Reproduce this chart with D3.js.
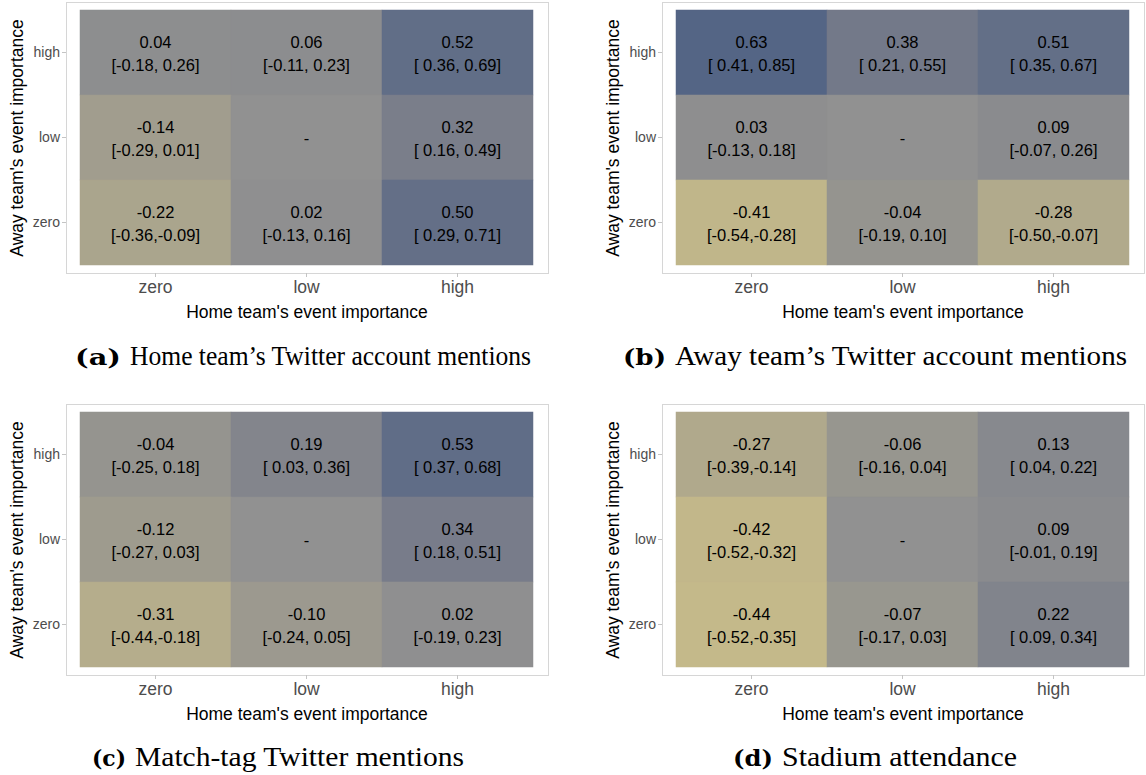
<!DOCTYPE html>
<html>
<head>
<meta charset="utf-8">
<script src="https://cdn.jsdelivr.net/npm/d3@7"></script>
<style>
  body { margin: 0; background: #fff; }
  svg { display: block; }
</style>
</head>
<body>
<script>
// categories
var homeLevels = ["zero", "low", "high"];
var awayLevels = ["high", "low", "zero"];

// estimates per panel, rows = away (high, low, zero), cols = home (zero, low, high); null = reference cell
var estA = [[0.04, 0.06, 0.52], [-0.14, null, 0.32], [-0.22, 0.02, 0.50]];
var lowA = [[-0.18, -0.11, 0.36], [-0.29, null, 0.16], [-0.36, -0.13, 0.29]];
var highA = [[0.26, 0.23, 0.69], [0.01, null, 0.49], [-0.09, 0.16, 0.71]];

var estB = [[0.63, 0.38, 0.51], [0.03, null, 0.09], [-0.41, -0.04, -0.28]];
var lowB = [[0.41, 0.21, 0.35], [-0.13, null, -0.07], [-0.54, -0.19, -0.50]];
var highB = [[0.85, 0.55, 0.67], [0.18, null, 0.26], [-0.28, 0.10, -0.07]];

var estC = [[-0.04, 0.19, 0.53], [-0.12, null, 0.34], [-0.31, -0.10, 0.02]];
var lowC = [[-0.25, 0.03, 0.37], [-0.27, null, 0.18], [-0.44, -0.24, -0.19]];
var highC = [[0.18, 0.36, 0.68], [0.03, null, 0.51], [-0.18, 0.05, 0.23]];

var estD = [[-0.27, -0.06, 0.13], [-0.42, null, 0.09], [-0.44, -0.07, 0.22]];
var lowD = [[-0.39, -0.16, 0.04], [-0.52, null, -0.01], [-0.52, -0.17, 0.09]];
var highD = [[-0.14, 0.04, 0.22], [-0.32, null, 0.19], [-0.35, 0.03, 0.34]];

var captionTags = ["(a)", "(b)", "(c)", "(d)"];
var captionTexts = ["Home team\u2019s Twitter account mentions", "Away team\u2019s Twitter account mentions",
                    "Match-tag Twitter mentions", "Stadium attendance"];

var panels = [
  { est: estA, lo: lowA, hi: highA, dx: 0, dy: 0, cap: [75, 130, 531] },
  { est: estB, lo: lowB, hi: highB, dx: 596, dy: 0, cap: [623, 675, 1127] },
  { est: estC, lo: lowC, hi: highC, dx: 0, dy: 402, cap: [92, 135, 464] },
  { est: estD, lo: lowD, hi: highD, dx: 596, dy: 402, cap: [733, 782, 1017] }
];

var width = 1146, height = 775;
var sans = "'Liberation Sans', Arial, sans-serif";

var svg = d3.select("body").append("svg")
    .attr("width", width)
    .attr("height", height);

var x = d3.scaleBand().domain(homeLevels).range([80, 533]);
var y = d3.scaleBand().domain(awayLevels).range([10, 265]);

var color = d3.scaleLinear()
    .domain([-0.44, 0, 0.32, 0.63])
    .range(["#c4b98a", "#909090", "#7a7e8a", "#546585"])
    .interpolate(d3.interpolateRgb)
    .clamp(true);

function fmt(v) { return v.toFixed(2); }
function pad(v) { return v < 0 ? fmt(v) : " " + fmt(v); }

panels.forEach(function (p, pi) {
    var g = svg.append("g").attr("transform", "translate(" + p.dx + "," + p.dy + ")");

    // panel border
    g.append("rect")
        .attr("x", 66.5).attr("y", 2.5)
        .attr("width", 482).attr("height", 271)
        .attr("fill", "none")
        .attr("stroke", "#d6d6d6");

    var cells = [];
    awayLevels.forEach(function (a, i) {
        homeLevels.forEach(function (h, j) {
            cells.push({ away: a, home: h, est: p.est[i][j], lo: p.lo[i][j], hi: p.hi[i][j] });
        });
    });

    g.selectAll("rect.tile")
        .data(cells).enter()
        .append("rect")
        .attr("class", "tile")
        .attr("x", function (d) { return x(d.home); })
        .attr("y", function (d) { return y(d.away); })
        .attr("width", x.bandwidth())
        .attr("height", y.bandwidth())
        .attr("fill", function (d) { return d.est === null ? "#919191" : color(d.est); })
        .attr("stroke", function (d) { return d.est === null ? "#919191" : color(d.est); })
        .attr("stroke-width", 0.5);

    var labels = g.selectAll("g.lab")
        .data(cells).enter()
        .append("g")
        .attr("class", "lab")
        .attr("transform", function (d) {
            return "translate(" + (x(d.home) + x.bandwidth() / 2) + "," + (y(d.away) + y.bandwidth() / 2) + ")";
        })
        .style("font-family", sans)
        .style("font-size", "16.5px")
        .attr("text-anchor", "middle")
        .attr("fill", "#000");

    labels.filter(function (d) { return d.est !== null; })
        .append("text")
        .attr("y", -4.5)
        .text(function (d) { return fmt(d.est); });

    labels.filter(function (d) { return d.est !== null; })
        .append("text")
        .attr("y", 18.5)
        .style("white-space", "pre")
        .attr("xml:space", "preserve")
        .text(function (d) { return "[" + pad(d.lo) + "," + pad(d.hi) + "]"; });

    labels.filter(function (d) { return d.est === null; })
        .append("text")
        .attr("y", 6)
        .text("-");

    // axes
    var yAxis = g.append("g")
        .attr("transform", "translate(66,0)")
        .call(d3.axisLeft(y).tickSize(4).tickPadding(2));
    yAxis.select(".domain").remove();
    yAxis.selectAll("line").attr("stroke", "#c4c4c4");
    yAxis.selectAll("text")
        .attr("fill", "#4d4d4d")
        .style("font-family", sans)
        .style("font-size", "14px");

    var xAxis = g.append("g")
        .attr("transform", "translate(0,273)")
        .call(d3.axisBottom(x).tickSize(4).tickPadding(4));
    xAxis.select(".domain").remove();
    xAxis.selectAll("line").attr("stroke", "#c4c4c4");
    xAxis.selectAll("text")
        .attr("fill", "#4d4d4d")
        .style("font-family", sans)
        .style("font-size", "17.5px");

    g.append("text")
        .attr("x", 307).attr("y", 318)
        .attr("text-anchor", "middle")
        .style("font-family", sans)
        .style("font-size", "17.5px")
        .text("Home team's event importance");

    g.append("text")
        .attr("transform", "translate(23,138) rotate(-90)")
        .attr("text-anchor", "middle")
        .style("font-family", sans)
        .style("font-size", "17.5px")
        .text("Away team's event importance");

    // caption
    var capY = 365 + (p.dy ? 401 : 0) - p.dy;
    g.append("text")
        .attr("x", p.cap[0] - p.dx).attr("y", capY)
        .style("font-family", "'DejaVu Serif', serif")
        .style("font-weight", "bold")
        .style("font-size", "22px")
        .attr("textLength", p.cap[1] - p.cap[0] - 9)
        .attr("lengthAdjust", "spacingAndGlyphs")
        .text(captionTags[pi]);
    g.append("text")
        .attr("x", p.cap[1] - p.dx).attr("y", capY)
        .style("font-family", "'Liberation Serif', 'Times New Roman', serif")
        .style("font-size", "27px")
        .attr("textLength", p.cap[2] - p.cap[1])
        .attr("lengthAdjust", "spacingAndGlyphs")
        .text(captionTexts[pi]);
});
</script>
</body>
</html>
